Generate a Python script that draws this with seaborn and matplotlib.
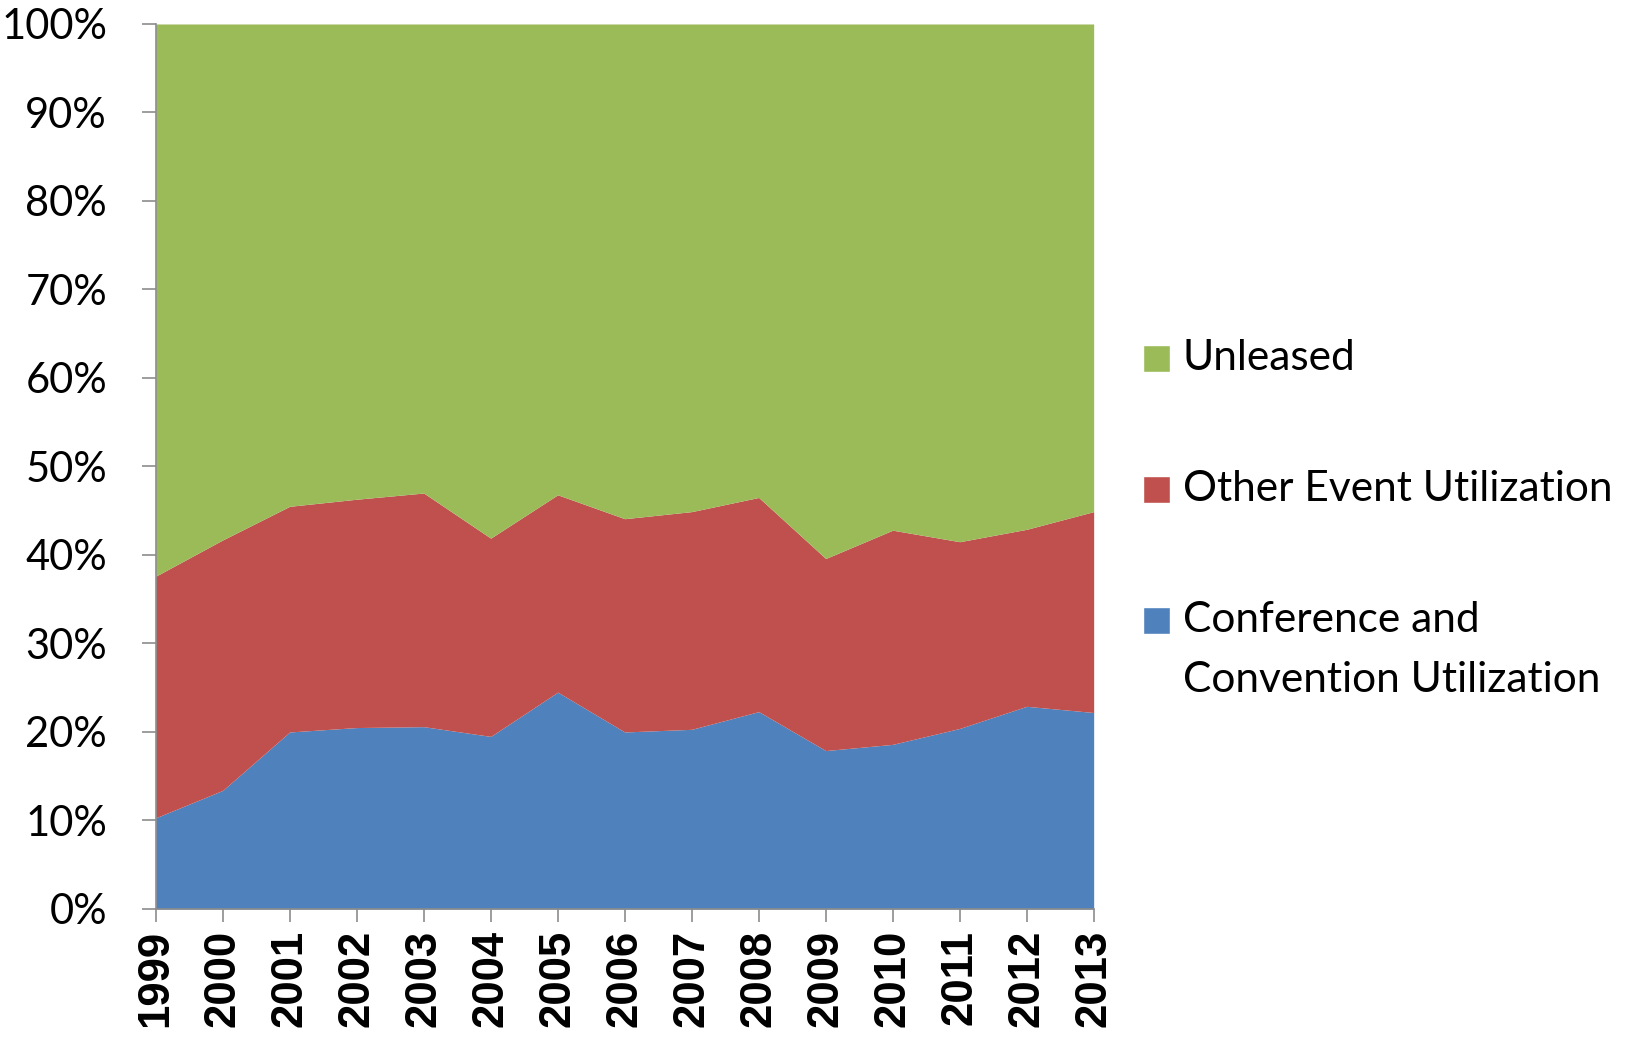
import matplotlib
matplotlib.use("Agg")
import matplotlib.pyplot as plt
import seaborn as sns
import numpy as np
from matplotlib.patches import Rectangle

# data (share of space, %)
years = [1999, 2000, 2001, 2002, 2003, 2004, 2005, 2006, 2007, 2008, 2009, 2010, 2011, 2012, 2013]
conferencia = [10.3, 13.4, 20.0, 20.5, 20.6, 19.5, 24.5, 20.0, 20.3, 22.3, 17.9, 18.6, 20.4, 22.9, 22.2]
otros_eventos = [27.3, 28.3, 25.5, 25.8, 26.4, 22.4, 22.3, 24.1, 24.6, 24.2, 21.7, 24.2, 21.1, 20.0, 22.7]
sin_arrendar = [100 - a - b for a, b in zip(conferencia, otros_eventos)]

etiquetas = ["Conference and\nConvention Utilization", "Other Event Utilization", "Unleased"]
colores = ["#4F81BD", "#C0504D", "#9BBB59"]

sns.set_style("white")
plt.rcParams["font.family"] = ["Lato", "DejaVu Sans"]

W, H = 1627, 1038
fig = plt.figure(figsize=(W / 100, H / 100), dpi=100)
ax = fig.add_axes([0.0957, 0.1243, 0.5765, 0.8526])

ax.stackplot(years, conferencia, otros_eventos, sin_arrendar, colors=colores, linewidth=0)

ax.set_xlim(years[0], years[-1])
ax.set_ylim(0, 100)
ax.set_xticks(years)
ax.set_xticklabels([str(y) for y in years], rotation=90, fontsize=31.5,
                   fontweight="bold", family="Liberation Sans", color="black")
ax.set_yticks(np.arange(0, 101, 10))
ax.set_yticklabels([f"{v}%" for v in range(0, 101, 10)], fontsize=30, color="black")

for lado in ["top", "right"]:
    ax.spines[lado].set_visible(False)
for lado in ["left", "bottom"]:
    ax.spines[lado].set_color("#8c8c8c")
    ax.spines[lado].set_linewidth(1.2)
ax.tick_params(axis="y", direction="out", length=10, width=1.2, color="#8c8c8c", pad=25, left=True)
ax.tick_params(axis="x", direction="out", length=9, width=1.2, color="#8c8c8c", pad=6, bottom=True)

# legend drawn by hand, Excel style (swatch lines up with the first text line)
x_patch, x_text = 1143, 1183
lado_patch = 27
fila_y = [358, 489, 620]
salto_linea = 60
for etiqueta, color, y0 in zip(etiquetas[::-1], colores[::-1], fila_y):
    fig.patches.append(Rectangle(((x_patch) / W, 1 - (y0 + lado_patch / 2) / H),
                                 lado_patch / W, lado_patch / H, facecolor=color,
                                 transform=fig.transFigure, figure=fig))
    for k, linea in enumerate(etiqueta.split("\n")):
        fig.text(x_text / W, 1 - (y0 + k * salto_linea) / H, linea, fontsize=30.5,
                 va="center", ha="left", color="black")

fig.savefig("out.png", dpi=100)
